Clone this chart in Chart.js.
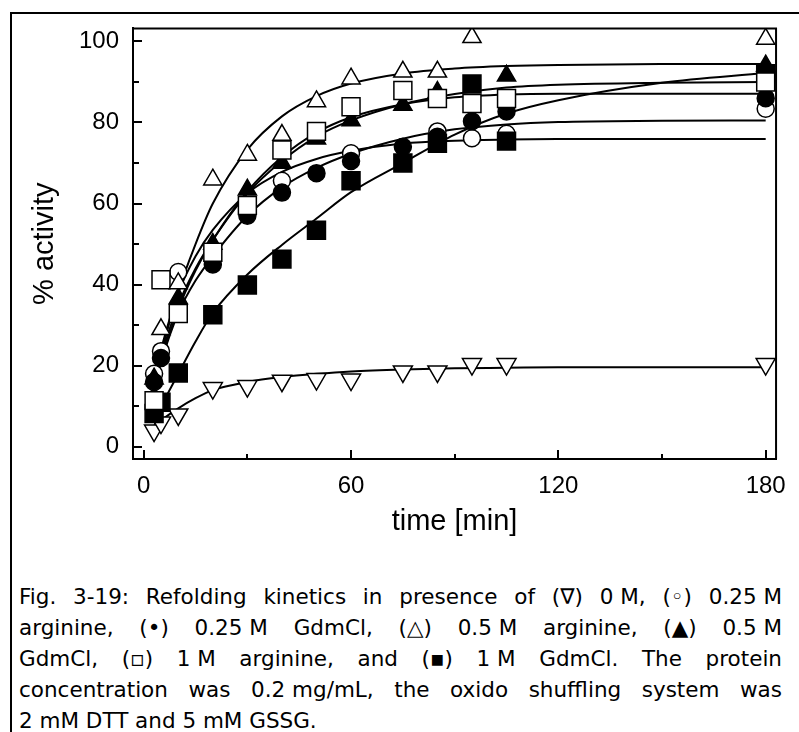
<!DOCTYPE html>
<html>
<head>
<meta charset="utf-8">
<script src="https://cdn.jsdelivr.net/npm/chart.js@4"></script>
<style>
  body { margin: 0; width: 799px; height: 732px; overflow: hidden; background: #fff; position: relative; }
  #frame { position: absolute; left: 10px; top: 12px; width: 820px; height: 760px; border-left: 2px solid #000; border-top: 2px solid #000; box-sizing: border-box; }
  #wrap { position: absolute; left: 0; top: 0; width: 799px; height: 560px; }
  #caption { position: absolute; left: 19px; top: 581px; width: 763px; font-family: "DejaVu Sans"; font-size: 21.5px; line-height: 31px; color: #000; }
  #caption .j { text-align: justify; text-align-last: justify; }
  #caption .nb { display: inline-block; }
</style>
</head>
<body>
<div id="frame"></div>
<div id="wrap"><canvas id="chart"></canvas></div>
<div id="caption">
  <div class="j">Fig. 3-19: Refolding kinetics in presence of <span class="nb">(∇)</span> <span class="nb">0 M,</span> <span class="nb">(◦)</span> <span class="nb">0.25 M</span></div>
  <div class="j">arginine, <span class="nb">(•)</span> <span class="nb">0.25 M</span> GdmCl, <span class="nb">(△)</span> <span class="nb">0.5 M</span> arginine, <span class="nb">(▲)</span> <span class="nb">0.5 M</span></div>
  <div class="j">GdmCl, <span class="nb">(▫)</span> <span class="nb">1 M</span> arginine, and <span class="nb">(▪)</span> <span class="nb">1 M</span> GdmCl. The protein</div>
  <div class="j">concentration was <span class="nb">0.2 mg/mL,</span> the oxido shuffling system was</div>
  <div>2 mM DTT and 5 mM GSSG.</div>
</div>
<script>
// measured times (min)
const times = [3, 5, 10, 20, 30, 40, 50, 60, 75, 85, 95, 105, 180];
// % activity per condition (null = hidden behind other symbols)
const noAdd   = [4, 6, 8, 14.5, 15, 16.3, 16.7, 16.6, 18.6, 18.6, 20.4, 20.4, 20.4];
const arg025  = [18, 23.6, 43.1, null, null, 65.6, null, 72.4, null, 77.8, 76.1, 77.2, 83.4];
const gdm025  = [16, 21.9, null, 45, 57, 62.7, 67.5, 70.5, 74, 76.5, 80.3, 82.7, 86];
const arg05   = [null, 29, 40.3, 65.9, 72, 76.9, 85.2, 90.8, 92.5, 92.5, 101, null, 100.6];
const gdm05   = [16.8, null, 36.6, 50, 63.4, 70, 76, 80.5, 84.3, 87.5, null, 91.5, 94];
const arg1    = [11.4, 41.2, 32.9, 48, 59.5, 73.2, 77.8, 83.9, 87.9, 85.9, 84.7, 85.9, 90];
const gdm1    = [8.2, 11, 18.2, 32.6, 39.9, 46.3, 53.4, 65.6, 70, 74.9, 89.5, 75.4, 92];

// fitted curves
const fitTimes  = [3, 5, 10, 15, 20, 30, 40, 50, 60, 75, 90, 105, 120, 150, 180];
const fitNoAdd  = [5, 6.5, 9.5, 12, 14, 16, 17.2, 18, 18.6, 19.1, 19.4, 19.5, 19.6, 19.6, 19.6];
const fitArg025 = [17, 24, 38, 47, 53.5, 62.5, 67.8, 71, 73, 74.8, 75.5, 75.8, 75.9, 75.9, 75.9];
const fitGdm025 = [15, 21, 33, 41, 47, 57, 64, 68.8, 72.3, 76, 78.3, 79.5, 80.1, 80.4, 80.5];
const fitArg05  = [15, 22.6, 38.2, 50, 60, 73.3, 81.5, 86.5, 89.6, 92.1, 93.3, 93.9, 94.2, 94.4, 94.4];
const fitGdm05  = [15, 22, 35, 44, 51, 62.5, 70.5, 76.5, 80.5, 84.5, 87, 88.6, 89.3, 89.8, 90];
const fitArg1   = [14, 21, 34, 43.5, 51, 63, 71.5, 77.5, 81.3, 84.5, 86.2, 86.9, 87.1, 87.1, 87.1];
const fitGdm1   = [5, 9.6, 18, 26, 33, 42.5, 49.8, 56.3, 62.8, 70, 77, 82.2, 85.5, 89.8, 92.2];

const xMajor = [0, 60, 120, 180], xMinor = [30, 90, 150];
const yMajor = [0, 20, 40, 60, 80, 100], yMinor = [10, 30, 50, 70, 90];

const AXIS_FONT = 'Liberation Sans';

function pts(ts, vs) {
    return ts.map((t, i) => ({x: t, y: vs[i]})).filter(p => p.y !== null);
}

function curve(vs) {
    return {
        data: pts(fitTimes, vs),
        showLine: true,
        borderColor: '#000',
        borderWidth: 2,
        pointRadius: 0,
        cubicInterpolationMode: 'monotone',
        order: 50
    };
}

function marks(vs, style, fill, radius, order, rotation) {
    return {
        data: pts(times, vs),
        showLine: false,
        pointStyle: style,
        pointRadius: radius,
        pointRotation: rotation || 0,
        pointBackgroundColor: fill,
        pointBorderColor: '#000',
        pointBorderWidth: 1.5,
        order: order
    };
}

// top / right frame and inward tick marks
const frameTicks = {
    id: 'frameTicks',
    afterDraw(chart) {
        const {ctx, chartArea: a, scales: {x, y}} = chart;
        ctx.save();
        ctx.strokeStyle = '#000';
        ctx.lineWidth = 2;
        ctx.beginPath();
        ctx.moveTo(a.left, a.top);
        ctx.lineTo(a.right, a.top);
        ctx.lineTo(a.right, a.bottom);
        ctx.stroke();
        ctx.beginPath();
        xMajor.forEach(v => { const p = Math.round(x.getPixelForValue(v)); ctx.moveTo(p, a.bottom); ctx.lineTo(p, a.bottom - 9); });
        xMinor.forEach(v => { const p = Math.round(x.getPixelForValue(v)); ctx.moveTo(p, a.bottom); ctx.lineTo(p, a.bottom - 5); });
        yMajor.forEach(v => { const p = Math.round(y.getPixelForValue(v)); ctx.moveTo(a.left, p); ctx.lineTo(a.left + 9, p); });
        yMinor.forEach(v => { const p = Math.round(y.getPixelForValue(v)); ctx.moveTo(a.left, p); ctx.lineTo(a.left + 6, p); });
        ctx.stroke();
        ctx.restore();
    }
};

new Chart(document.getElementById('chart'), {
    type: 'scatter',
    data: {
        datasets: [
            curve(fitNoAdd), curve(fitArg025), curve(fitGdm025), curve(fitArg05),
            curve(fitGdm05), curve(fitArg1), curve(fitGdm1),
            marks(arg05, 'triangle', '#fff', 10.5, 1),
            marks(arg1, 'rect', '#fff', 12.7, 2),
            marks(gdm05, 'triangle', '#000', 10.5, 3),
            marks(gdm1, 'rect', '#000', 12.7, 4),
            marks(gdm025, 'circle', '#000', 8.5, 5),
            marks(arg025, 'circle', '#fff', 8.5, 6),
            marks(noAdd, 'triangle', '#fff', 11, 7, 180)
        ]
    },
    options: {
        responsive: true,
        maintainAspectRatio: false,
        animation: false,
        events: [],
        layout: {padding: {left: 0, top: 24, right: 18, bottom: 0}},
        plugins: {
            legend: {display: false},
            tooltip: {enabled: false}
        },
        scales: {
            x: {
                type: 'linear',
                min: -3.1,
                max: 183,
                afterFit: s => { s.height = 101; },
                border: {display: true, color: '#000', width: 2},
                grid: {display: false, drawTicks: false},
                ticks: {stepSize: 60, includeBounds: false, padding: 13, color: '#000', maxRotation: 0,
                        font: {family: AXIS_FONT, size: 24}},
                title: {display: true, text: 'time [min]', color: '#000',
                        font: {family: AXIS_FONT, size: 29}, padding: {top: 0, bottom: 21}}
            },
            y: {
                type: 'linear',
                min: -3,
                max: 103.2,
                afterFit: s => { s.width = 133; },
                border: {display: true, color: '#000', width: 2},
                grid: {display: false, drawTicks: false},
                ticks: {stepSize: 20, includeBounds: false, padding: 14, color: '#000',
                        font: {family: AXIS_FONT, size: 24}},
                title: {display: true, text: '% activity', color: '#000',
                        font: {family: AXIS_FONT, size: 29}, padding: {top: 28, bottom: 0}}
            }
        }
    },
    plugins: [frameTicks]
});
</script>
</body>
</html>
